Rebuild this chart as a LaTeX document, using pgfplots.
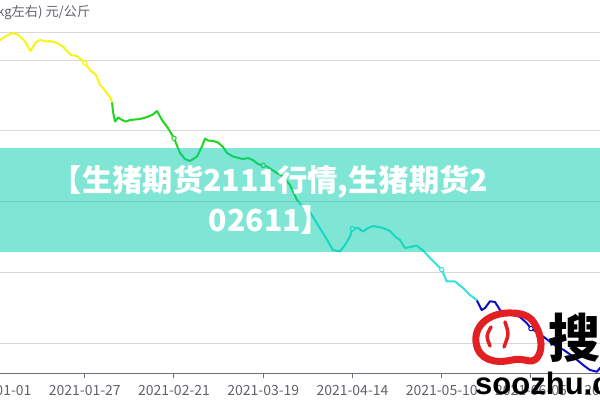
\documentclass[border=0pt]{standalone}
\usepackage{pgfplots}
\pgfplotsset{compat=1.18}
\usepackage{fontspec}
\setmainfont{Noto Sans CJK SC}
\newfontfamily\wmfont{Liberation Sans}
\definecolor{cyel}{RGB}{248,244,20}
\definecolor{cgrn}{RGB}{30,214,30}
\definecolor{ccyn}{RGB}{48,228,218}
\definecolor{cblu}{RGB}{12,12,200}
\definecolor{gridc}{RGB}{216,216,216}
\definecolor{axc}{RGB}{110,112,121}
\definecolor{txtc}{RGB}{96,98,106}
\definecolor{bannerc}{RGB}{0,204,170}
\definecolor{wmred}{RGB}{226,32,36}

\pgfplotstableread{
d v
0 36.30
1.30 36.41
3.03 36.70
5.06 36.90
6.50 36.80
8.52 36.31
10.11 35.64
11.70 36.27
12.86 36.41
14.88 36.31
15.75 36.34
17.77 36.20
19.50 35.95
21.81 35.35
23.55 35.28
24.41 35.11
25.79 34.80
27.30 34.29
29.04 33.94
30.19 33.23
31.06 33.02
33.08 32.39
33.68 32.00
}\yellowdata

\pgfplotstableread{
d v
33.68 32.00
33.95 31.33
34.53 30.65
35.40 30.94
36.55 30.76
37.71 30.65
38.86 30.76
41.75 30.83
43.77 30.97
45.51 31.15
46.66 31.40
48.11 30.76
49.84 30.19
51.57 29.47
53.31 28.43
54.75 28.00
56.20 27.86
58.22 28.18
59.66 28.89
60.53 29.45
61.40 29.31
62.84 29.28
64.29 29.17
65.73 28.85
66.89 28.43
68.62 28.18
71.51 28.00
72.96 28.07
74.40 27.93
75.85 27.65
77.36 27.55
78.45 27.47
81.34 27.01
83.07 26.77
85.09 26.17
87.11 25.11
87.49 25.00
}\greendata

\pgfplotstableread{
d v
87.49 25.00
88.85 24.61
90.87 24.26
93.18 23.34
95.49 22.42
97.52 21.57
99.54 21.47
100.98 21.93
102.43 22.53
103.14 23.08
104.74 23.13
106.18 22.88
107.63 23.13
109.07 23.27
111.96 23.13
113.98 22.92
115.43 22.53
116.87 22.28
118.32 21.71
119.76 21.78
121.70 21.89
123.52 21.54
125.54 21.01
127.27 20.58
128.93 20.19
130.36 19.35
132.76 19.35
135.07 18.89
137.10 18.39
139.03 18.04
139.11 18.00
}\cyandata

\pgfplotstableread{
d v
139.11 18.00
140.48 17.33
141.43 17.47
142.88 17.95
144.32 17.90
145.77 17.33
147.70 17.10
149.61 16.98
151.54 16.84
153.48 16.41
154.71 16.02
156.37 15.78
158.28 15.45
160.21 15.09
161.94 14.79
163.97 14.54
166.86 14.05
169.75 13.45
171.77 13.09
173.79 12.97
174.66 13.23
177.55 13.59
}\bluedata

\begin{document}
\begin{tikzpicture}
\useasboundingbox (0pt,0pt) rectangle (600pt,400pt);
\clip (0pt,0pt) rectangle (600pt,400pt);
\begin{axis}[
  at={(-4.5pt,27pt)}, anchor=south west,
  scale only axis, width=640.3pt, height=340pt,
  xmin=0, xmax=185, ymin=12.88, ymax=36.91,
  axis x line*=bottom, axis y line*=left,
  x axis line style={draw=axc, line width=1pt},
  y axis line style={draw=none},
  clip=false,
  xtick={0,25.79,51.57,77.36,103.14,128.93,154.71,180.5},
  xticklabels={2021-01-01,2021-01-27,2021-02-21,2021-03-19,2021-04-14,2021-05-10,2021-06-05,2021-07-01},
  tick align=outside, major tick length=5pt,
  tick style={draw=axc, line width=1pt},
  ytick={15,20,25,30,35,36.91},
  yticklabels={},
  ymajorgrids, grid style={draw=gridc, line width=1pt},
  xticklabel style={font=\fontsize{14}{16}\selectfont, text=txtc, anchor=base, inner sep=0pt, yshift=-17pt},
]
\addplot[cyel, line width=2pt, line join=round] table[x=d,y=v] {\yellowdata};
\addplot[cgrn, line width=2pt, line join=round] table[x=d,y=v] {\greendata};
\addplot[ccyn, line width=2pt, line join=round] table[x=d,y=v] {\cyandata};
\addplot[cblu, line width=2pt, line join=round] table[x=d,y=v] {\bluedata};
\addplot[only marks, mark=*, mark size=2.2pt, mark options={draw=cyel, fill=white, line width=1pt}] coordinates {(25.79,34.80)};
\addplot[only marks, mark=*, mark size=2.2pt, mark options={draw=cgrn, fill=white, line width=1pt}] coordinates {(51.57,29.47) (77.36,27.55)};
\addplot[only marks, mark=*, mark size=2.2pt, mark options={draw=ccyn, fill=white, line width=1pt}] coordinates {(103.14,23.08) (128.93,20.19)};
\addplot[only marks, mark=*, mark size=2.2pt, mark options={draw=cblu, fill=white, line width=1pt}] coordinates {(154.71,16.02)};
\end{axis}
% axis name (cut off at left)
\node[anchor=base east, inner sep=0pt, text=txtc, font=\fontsize{13.2}{15}\selectfont] at (90.5pt,383.2pt) {外三元(100kg左右) 元/公斤};
% banner
\fill[bannerc, opacity=0.5] (0pt,148pt) rectangle (600pt,252pt);
\node[anchor=base, inner sep=0pt, text=white, font=\fontsize{30.3}{32}\selectfont\bfseries] at (270pt,208.5pt) {【生猪期货2111行情,生猪期货2};
\node[anchor=base, inner sep=0pt, text=white, font=\fontsize{30.3}{32}\selectfont\bfseries] at (270pt,168.5pt) {02611】};
% watermark
\begin{scope}[x=1pt,y=1pt]
\draw[wmred, line width=7pt, line cap=round]
  (512,87) .. controls (490,88) and (474,75) .. (476,58)
  .. controls (478,40) and (495,36) .. (512,40)
  .. controls (525,43) and (530,35) .. (537,42)
  .. controls (545,52) and (540,70) .. (532,80)
  .. controls (526,86) and (518,87) .. (512,87);
\draw[wmred, line width=3.5pt, line cap=round] (491,73) .. controls (486,64) .. (490,54);
\draw[wmred, line width=3.5pt, line cap=round] (505,78) .. controls (509,66) .. (504,53);
\end{scope}
\node[anchor=center, inner sep=0pt, text=black, font=\fontsize{52}{54}\selectfont\bfseries] at (574pt,62pt) {搜};
\node[anchor=base west, inner sep=0pt, text=black, font=\wmfont\fontsize{31}{33}\selectfont\bfseries] at (475pt,6pt) {soozhu.com};
\end{tikzpicture}
\end{document}
